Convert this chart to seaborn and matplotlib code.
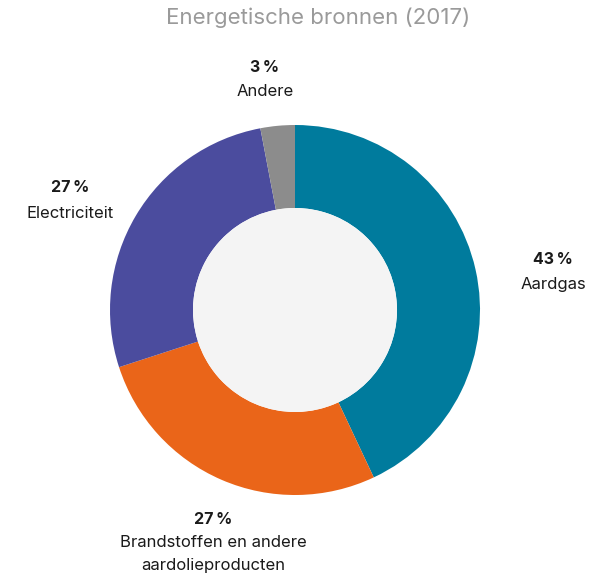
import matplotlib
matplotlib.use("Agg")
import matplotlib.pyplot as plt
import seaborn as sns

categories = ["Aardgas", "Brandstoffen en andere\naardolieproducten", "Electriciteit", "Andere"]
values = [43, 27, 27, 3]
pct_labels = ["43\u2009%", "27\u2009%", "27\u2009%", "3\u2009%"]
title = "Energetische bronnen (2017)"

sns.set_theme(style="white")
plt.rcParams['font.family'] = ['Inter', 'DejaVu Sans']

colors = sns.color_palette(["#007b9d", "#ea6519", "#4b4c9e", "#8c8c8c"])

W, H = 591, 578
fig = plt.figure(figsize=(W / 100, H / 100), dpi=100)
ax = fig.add_axes([0, 0, 1, 1])

cx, cy = 295, H - 310
R, r = 185, 102
ax.pie(values, colors=colors, startangle=90, counterclock=False,
       center=(cx, cy), radius=R,
       wedgeprops=dict(width=R - r, linewidth=0))
ax.add_patch(plt.Circle((cx, cy), r, color="#f4f4f4", zorder=5, linewidth=0))
ax.set_xlim(0, W)
ax.set_ylim(0, H)
ax.set_aspect("equal")
ax.axis("off")

# label anchor positions (pixel coords from top): pct line y, name first line y
label_pos = [(553, 260, 284), (213, 520, 545), (70, 188, 213), (265, 68, 92)]
for (x, yp, yn), pct, name in zip(label_pos, pct_labels, categories):
    ax.text(x, H - yp, pct, ha="center", va="center", fontsize=11.5,
            fontweight="bold", color="#1a1a1a")
    if "\n" in name:
        ax.text(x, H - yn + 10, name, ha="center", va="top", fontsize=12,
                color="#1a1a1a", linespacing=1.65)
    else:
        ax.text(x, H - yn, name, ha="center", va="center", fontsize=12,
                color="#1a1a1a")

ax.text(318, H - 18, title, ha="center", va="center", fontsize=16,
        color="#9a9a9a")

fig.savefig("out.png", dpi=100)
